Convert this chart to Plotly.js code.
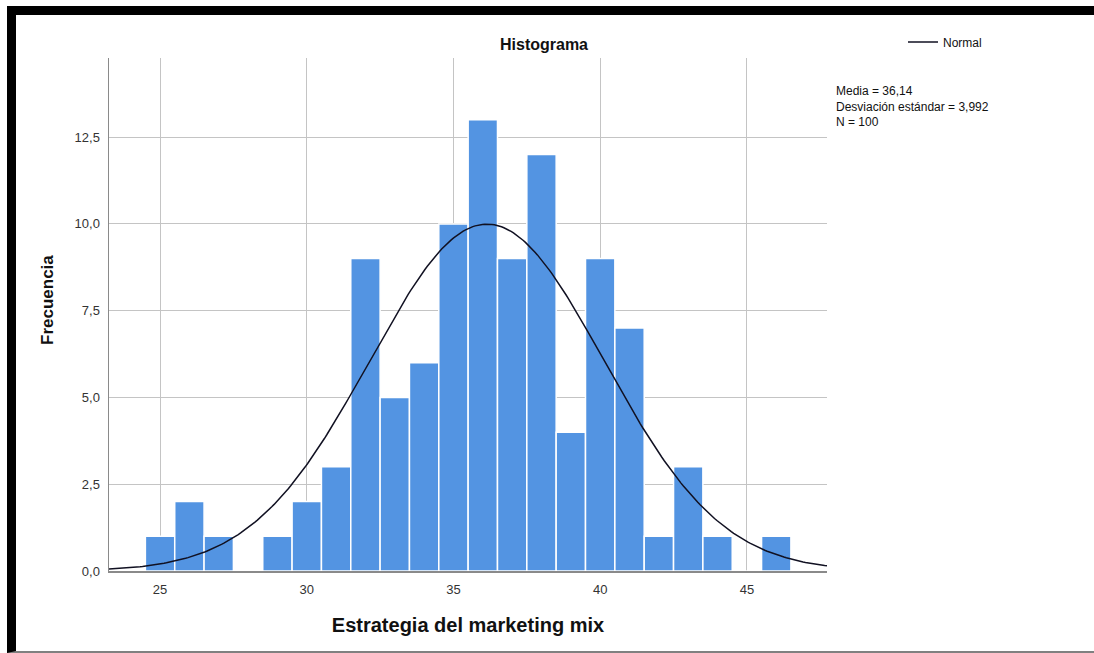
<!DOCTYPE html>
<html>
<head>
<meta charset="utf-8">
<script src="https://cdn.plot.ly/plotly-3.0.1.min.js"></script>
<style>
  html, body { margin: 0; padding: 0; background: #fff; overflow: hidden; width: 1094px; height: 653px; }
  #wrap { position: relative; width: 1094px; height: 653px; overflow: hidden; background: #fff; }
  #chart { position: absolute; left: 0; top: 0; width: 1094px; height: 653px; }
  #frame { position: absolute; left: 7px; top: 6px; width: 1087px; height: 647px;
           border-top: 9px solid #000; border-left: 9px solid #000;
           border-bottom: 2px solid #808080; pointer-events: none; box-sizing: border-box; }
</style>
</head>
<body>
<div id="wrap">
  <div id="chart"></div>
  <div id="frame"></div>
</div>
<script>
// Histogram data (bins of width 1 centred on integer scores)
const binCenters = [25, 26, 27, 28, 29, 30, 31, 32, 33, 34, 35, 36, 37, 38, 39, 40, 41, 42, 43, 44, 45, 46];
const frequencies = [1, 2, 1, 0, 1, 2, 3, 9, 5, 6, 10, 13, 9, 12, 4, 9, 7, 1, 3, 1, 0, 1];

// Summary statistics shown on the chart
const mediaValue = 36.14;
const desviacionValue = 3.992;
const nValue = 100;
const binWidth = 1;

const xTickVals = [25, 30, 35, 40, 45];
const yTickVals = [0, 2.5, 5, 7.5, 10, 12.5];

const xRange = [23.26, 47.73];
const yRange = [0, 14.78];

// Normal curve defined by the displayed statistics
const curveX = [];
const curveY = [];
const steps = 300;
for (let i = 0; i <= steps; i++) {
  const x = xRange[0] + (xRange[1] - xRange[0]) * i / steps;
  const z = (x - mediaValue) / desviacionValue;
  curveX.push(x);
  curveY.push(nValue * binWidth * Math.exp(-0.5 * z * z) / (desviacionValue * Math.sqrt(2 * Math.PI)));
}

const FONT = 'Liberation Sans, Arial, sans-serif';

const traces = [
  {
    type: 'bar',
    x: binCenters,
    y: frequencies,
    width: binWidth,
    marker: { color: '#5394e2', line: { color: '#ffffff', width: 1.5 } },
    showlegend: false,
    hoverinfo: 'x+y'
  },
  {
    type: 'scatter',
    mode: 'lines',
    x: curveX,
    y: curveY,
    name: 'Normal',
    line: { color: '#111122', width: 1.5 },
    showlegend: true
  }
];

const statText = [
  'Media = ' + mediaValue.toFixed(2).replace('.', ','),
  'Desviación estándar = ' + desviacionValue.toFixed(3).replace('.', ','),
  'N = ' + nValue
].join('<br>');

const annotations = [
  {
    xref: 'paper', yref: 'paper',
    x: -62 / 718, y: (571 - 300) / 513,
    xanchor: 'center', yanchor: 'middle',
    text: '<b>Frecuencia</b>', textangle: -90, showarrow: false,
    font: { family: FONT, size: 17, color: '#111' }
  },
  {
    xref: 'paper', yref: 'paper',
    x: (834 - 109) / 718, y: (571 - 106) / 513,
    xanchor: 'left', yanchor: 'middle', align: 'left',
    text: statText, showarrow: false,
    font: { family: FONT, size: 12, color: '#111' }
  }
];

const layout = {
  width: 1094,
  height: 653,
  paper_bgcolor: '#ffffff',
  plot_bgcolor: '#ffffff',
  separators: ',.',
  font: { family: FONT, color: '#222' },
  margin: { l: 109, r: 267, t: 58, b: 82, pad: 0 },
  bargap: 0,
  title: {
    text: '<b>Histograma</b>',
    font: { family: FONT, size: 16, color: '#111' },
    x: 544 / 1094, xref: 'container', xanchor: 'center',
    y: 1 - 44 / 653, yref: 'container', yanchor: 'middle'
  },
  xaxis: {
    range: xRange,
    tickmode: 'array',
    tickvals: xTickVals,
    ticks: '',
    showgrid: true,
    gridcolor: '#c4c4c4',
    gridwidth: 1,
    zeroline: false,
    showline: true,
    linecolor: '#8a8a8a',
    linewidth: 1.5,
    tickfont: { family: FONT, size: 13, color: '#333' },
    ticklabelstandoff: 6,
    title: { text: '<b>Estrategia del marketing mix</b>', font: { family: FONT, size: 20, color: '#111' }, standoff: 22 }
  },
  yaxis: {
    range: yRange,
    tickmode: 'array',
    tickvals: yTickVals,
    tickformat: '.1f',
    ticks: '',
    showgrid: true,
    gridcolor: '#c4c4c4',
    gridwidth: 1,
    zeroline: false,
    showline: true,
    linecolor: '#8a8a8a',
    linewidth: 1.5,
    tickfont: { family: FONT, size: 13, color: '#333' },
    ticklabelstandoff: 5,
    title: { text: '' }
  },
  legend: {
    x: 903 / 1094, xref: 'container', xanchor: 'left',
    y: 1 - 42 / 653, yref: 'container', yanchor: 'middle',
    bgcolor: 'rgba(0,0,0,0)',
    font: { family: FONT, size: 12, color: '#111' },
    itemwidth: 30,
    tracegroupgap: 0
  },
  annotations: annotations
};

Plotly.newPlot('chart', traces, layout, { displayModeBar: false, staticPlot: true });
</script>
</body>
</html>
